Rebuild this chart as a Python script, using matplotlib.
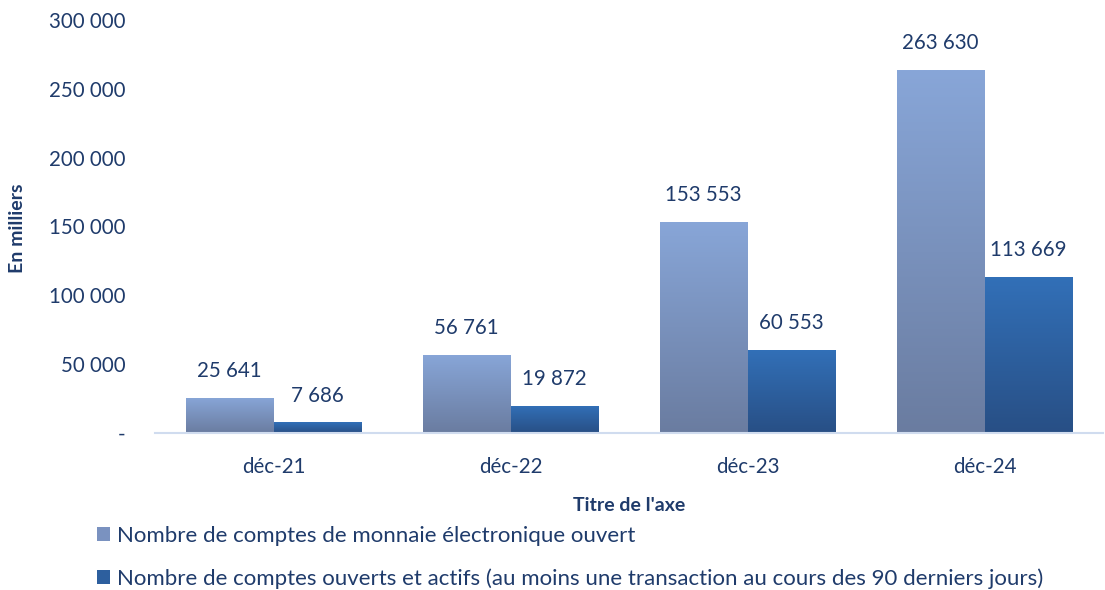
import numpy as np
import matplotlib
matplotlib.use("Agg")
import matplotlib.pyplot as plt
from matplotlib.patches import Patch
from matplotlib.colors import LinearSegmentedColormap

plt.rcParams['font.family'] = ['Lato', 'DejaVu Sans']

# ===================== données =====================
categories = ['déc-21', 'déc-22', 'déc-23', 'déc-24']
comptes_ouverts = [25641, 56761, 153553, 263630]
comptes_actifs = [7686, 19872, 60553, 113669]
series_names = ['Nombre de comptes de monnaie électronique ouvert',
                'Nombre de comptes ouverts et actifs (au moins une transaction au cours des 90 derniers jours)']
yticks = [0, 50000, 100000, 150000, 200000, 250000, 300000]

txt = '#1F3B6B'
grad_light = ('#6a7ca0', '#88a6d8')   # bas, haut
grad_dark = ('#284f85', '#3270b8')


def fmt(v):
    return f"{v:,}".replace(",", " ")


fig = plt.figure(figsize=(11.05, 5.9), dpi=100)
ax = fig.add_axes([155 / 1105, 1 - 433 / 590, (1103 - 155) / 1105, (433 - 20) / 590])

x = np.arange(len(categories))
w = 0.37


def gradient_bars(xpos, vals, cols):
    cmap = LinearSegmentedColormap.from_list('g', list(cols))
    bars = ax.bar(xpos, vals, width=w, color='none', edgecolor='none', zorder=2)
    grad = np.linspace(0, 1, 256).reshape(-1, 1)
    for b in bars:
        x0, y0 = b.get_x(), b.get_y()
        im = ax.imshow(grad, cmap=cmap, origin='lower', aspect='auto',
                       extent=[x0, x0 + b.get_width(), y0, y0 + b.get_height()], zorder=2)
        im.set_clip_path(b)
    for xi, v in zip(xpos, vals):
        ax.annotate(fmt(v), (xi, v), xytext=(0, 12), textcoords='offset points',
                    ha='center', va='bottom', fontsize=14.8, color=txt)
    return bars


gradient_bars(x - w / 2, comptes_ouverts, grad_light)
gradient_bars(x + w / 2, comptes_actifs, grad_dark)

ax.set_xlim(-0.5, len(categories) - 0.5)
ax.set_ylim(0, 300000)
ax.set_yticks(yticks)
ax.set_yticklabels(['-' if t == 0 else fmt(t) for t in yticks])
ax.set_xticks(x)
ax.set_xticklabels(categories)
ax.tick_params(axis='both', length=0, labelsize=14.8, labelcolor=txt)
ax.tick_params(axis='y', pad=21)
ax.tick_params(axis='x', pad=17)
for s in ['top', 'right', 'left']:
    ax.spines[s].set_visible(False)
ax.spines['bottom'].set_color('#d0dcef')
ax.spines['bottom'].set_linewidth(1.5)

ax.set_xlabel("Titre de l'axe", fontsize=14, fontweight='bold', color=txt, labelpad=15)
fig.text(18 / 1105, 1 - 228 / 590, 'En milliers', rotation=90, ha='center', va='center',
         fontsize=14, fontweight='bold', color=txt)

handles = [Patch(facecolor='#7a92c0'), Patch(facecolor='#2d5f9e')]
leg = fig.legend(handles, series_names, loc='upper left', bbox_to_anchor=(88 / 1105, 1 - 517 / 590),
                 frameon=False, fontsize=16, handlelength=0.6, handleheight=0.6,
                 handletextpad=0.3, labelspacing=1.0, borderaxespad=0)
for t in leg.get_texts():
    t.set_color(txt)

fig.savefig('out.png', dpi=100)
